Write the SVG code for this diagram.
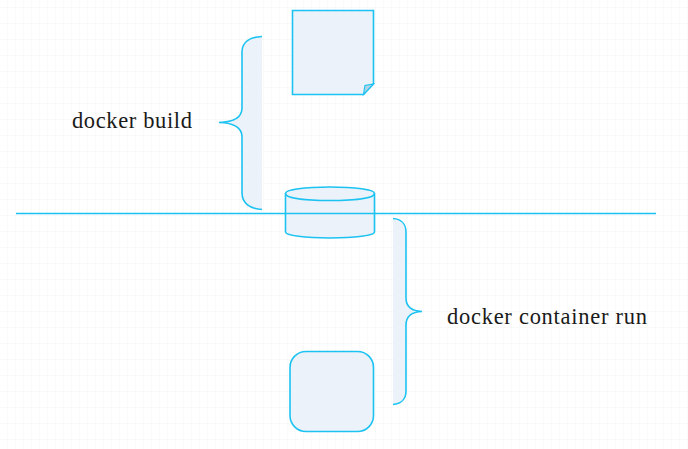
<svg xmlns="http://www.w3.org/2000/svg" width="688" height="449" viewBox="0 0 688 449">
<style>
.s{fill:#ebf2fa;stroke:#1cc3f2;stroke-width:1.6}
.n{fill:none;stroke:#1cc3f2;stroke-width:1.6}
.l{fill:none;stroke:#1cc3f2;stroke-width:1.3}
.c{fill:#b4d4e4;stroke:#1cc3f2;stroke-width:1.2}
.f{fill:#ebf2fa;stroke:none}
text{font-family:"Liberation Serif",serif;font-size:22.500px;fill:#1a1a1a}
</style>
<defs>
<pattern id="g" width="8" height="16" patternUnits="userSpaceOnUse"><path d="M7.500 0V16" fill="none" stroke="#fafafa" stroke-width="1"/><path d="M0 7.500H8" fill="none" stroke="#f8f8f8" stroke-width="1" stroke-dasharray="3 1"/></pattern>
</defs>
<rect width="688" height="449" fill="#fff"/>
<rect width="688" height="449" fill="url(#g)"/>
<g id="brace-build">
<path class="f" d="M262 36.500C250 37 242 42 242 52V108C242 117 235 122 219 122.500C235 123 242 128 242 137V193C242 203 250 209 262 209.500Z"/>
<path class="n" d="M262 36.500C250 37 242 42 242 52V108C242 117 235 122 219 122.500C235 123 242 128 242 137V193C242 203 250 209 262 209.500"/>
</g>
<g id="label-build"><text x="72" y="128" textLength="120" lengthAdjust="spacing">docker build</text></g>
<g id="dockerfile">
<path class="s" d="M292.500 10.500H373.500V84L363.500 94.500H292.500Z"/>
<path class="c" d="M363.500 94.500L365 85.500L373.500 84Z"/>
</g>
<g id="image">
<path class="s" d="M285.500 193.500C285.500 189.500 305 187 330 187C355 187 374.500 189.500 374.500 193.500V232C374.500 235.500 355 238 330 238C305 238 285.500 235.500 285.500 232Z"/>
<path class="n" d="M285.500 193.500C285.500 198 305 200.500 330 200.500C355 200.500 374.500 198 374.500 193.500"/>
</g>
<g id="brace-run">
<path class="f" d="M393 218.500C401 219 406 224 406 232V298C406 306 411 311 422 311.500C411 312 406 317 406 325V391C406 399 401 404 393 404.500Z"/>
<path class="n" d="M393 218.500C401 219 406 224 406 232V298C406 306 411 311 422 311.500C411 312 406 317 406 325V391C406 399 401 404 393 404.500"/>
</g>
<g id="label-run"><text x="447" y="324" textLength="200" lengthAdjust="spacing">docker container run</text></g>
<g id="container">
<rect class="s" x="290" y="351.500" width="83.500" height="80" rx="16" ry="16"/>
</g>
<g id="connectors">
<path class="l" d="M16 213.500H656"/>
</g>
</svg>
